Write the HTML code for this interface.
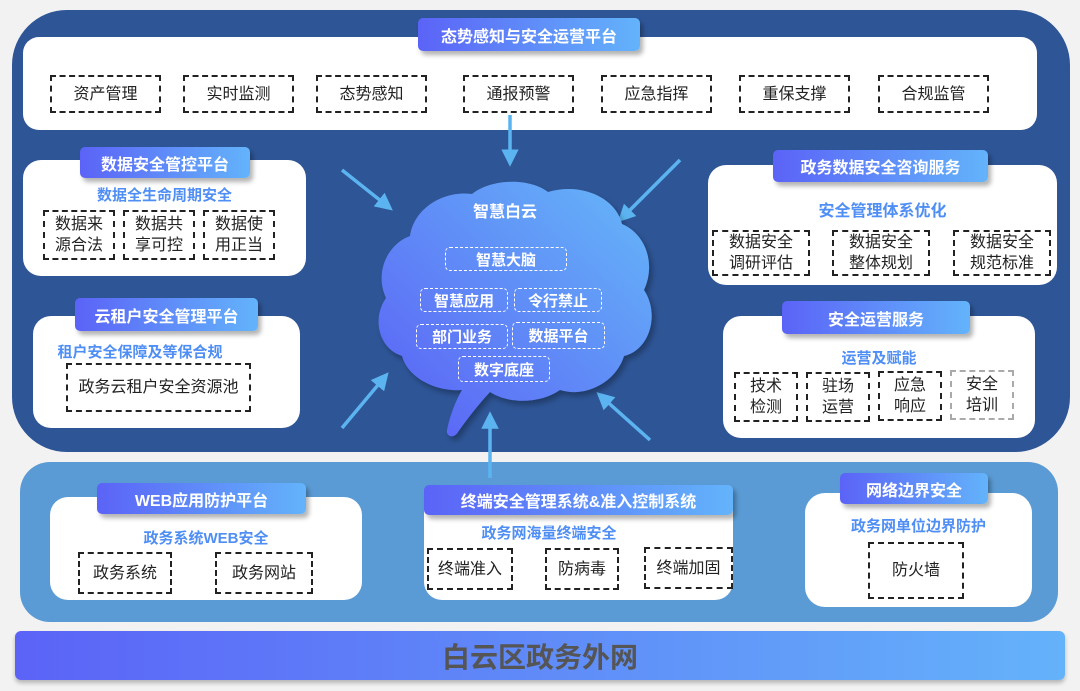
<!DOCTYPE html>
<html><head><meta charset="utf-8"><style>
*{margin:0;padding:0;box-sizing:border-box}
body{width:1080px;height:691px;background:#f2f2f2;position:relative;overflow:hidden;font-family:"Liberation Sans","Noto Sans CJK SC",sans-serif}
.a{position:absolute}
.w{position:absolute;background:#fff;border-radius:18px}
.tab{position:absolute;background:linear-gradient(90deg,#5b63f7,#63b3fb);color:#fff;font-weight:bold;font-size:16px;display:flex;align-items:center;justify-content:center;border-radius:5px;box-shadow:3px 4px 5px rgba(0,0,0,.3)}
.d{position:absolute;border:2px dashed #222;display:flex;align-items:center;justify-content:center;text-align:center;font-size:16px;color:#222;line-height:21px}
.s{position:absolute;color:#4f8ef5;font-weight:bold;font-size:15px;text-align:center}
.b{position:absolute;border:1.5px dashed #fff;border-radius:5px;color:#fff;font-weight:bold;font-size:15px;display:flex;align-items:center;justify-content:center}
</style></head><body>
<div class="a" style="left:12px;top:10px;width:1058px;height:442px;background:#2e5596;border-radius:55px"></div>
<div class="a" style="left:20px;top:462px;width:1038px;height:160px;background:#5b9bd5;border-radius:30px"></div>
<div class="a" style="left:15px;top:631px;width:1050px;height:49px;background:linear-gradient(90deg,#5b63f7,#64b2fa);border-radius:6px;box-shadow:0 3px 4px rgba(0,0,0,.25);color:#555;font-weight:bold;font-size:28px;display:flex;align-items:center;justify-content:center">白云区政务外网</div>

<!-- top -->
<div class="w" style="left:23px;top:37px;width:1014px;height:93px;border-radius:16px"></div>
<div class="tab" style="left:418px;top:18px;width:222px;height:33px">态势感知与安全运营平台</div>
<div class="d" style="left:50px;top:75px;width:111px;height:38px">资产管理</div>
<div class="d" style="left:183px;top:75px;width:111px;height:38px">实时监测</div>
<div class="d" style="left:316px;top:75px;width:111px;height:38px">态势感知</div>
<div class="d" style="left:463px;top:75px;width:111px;height:38px">通报预警</div>
<div class="d" style="left:601px;top:75px;width:111px;height:38px">应急指挥</div>
<div class="d" style="left:739px;top:75px;width:111px;height:38px">重保支撑</div>
<div class="d" style="left:878px;top:75px;width:111px;height:38px">合规监管</div>

<!-- left 1 -->
<div class="w" style="left:23px;top:160px;width:283px;height:116px"></div>
<div class="tab" style="left:80px;top:147px;width:170px;height:31px">数据安全管控平台</div>
<div class="s" style="left:23px;top:184px;width:283px">数据全生命周期安全</div>
<div class="d" style="left:43px;top:210px;width:72px;height:50px">数据来<br>源合法</div>
<div class="d" style="left:123px;top:210px;width:72px;height:50px">数据共<br>享可控</div>
<div class="d" style="left:203px;top:210px;width:72px;height:50px">数据使<br>用正当</div>

<!-- left 2 -->
<div class="w" style="left:33px;top:316px;width:267px;height:112px"></div>
<div class="tab" style="left:75px;top:298px;width:183px;height:33px">云租户安全管理平台</div>
<div class="s" style="left:40px;top:341px;width:200px">租户安全保障及等保合规</div>
<div class="d" style="left:66px;top:363px;width:185px;height:49px">政务云租户安全资源池</div>

<!-- right 1 -->
<div class="w" style="left:708px;top:165px;width:349px;height:120px"></div>
<div class="tab" style="left:773px;top:150px;width:215px;height:32px">政务数据安全咨询服务</div>
<div class="s" style="left:708px;top:197px;width:349px;font-size:16px">安全管理体系优化</div>
<div class="d" style="left:712px;top:230px;width:98px;height:46px;font-size:16px">数据安全<br>调研评估</div>
<div class="d" style="left:832px;top:230px;width:98px;height:46px;font-size:16px">数据安全<br>整体规划</div>
<div class="d" style="left:953px;top:230px;width:98px;height:46px;font-size:16px">数据安全<br>规范标准</div>

<!-- right 2 -->
<div class="w" style="left:723px;top:316px;width:312px;height:122px"></div>
<div class="tab" style="left:782px;top:301px;width:188px;height:33px">安全运营服务</div>
<div class="s" style="left:723px;top:347px;width:312px">运营及赋能</div>
<div class="d" style="left:734px;top:372px;width:64px;height:50px;font-size:16px">技术<br>检测</div>
<div class="d" style="left:806px;top:372px;width:64px;height:50px;font-size:16px">驻场<br>运营</div>
<div class="d" style="left:878px;top:371px;width:64px;height:50px;font-size:16px">应急<br>响应</div>
<div class="d" style="left:950px;top:370px;width:64px;height:50px;font-size:16px;border-color:#aaa">安全<br>培训</div>

<!-- bottom boxes -->
<div class="w" style="left:50px;top:497px;width:312px;height:103px"></div>
<div class="tab" style="left:97px;top:483px;width:209px;height:31px">WEB应用防护平台</div>
<div class="s" style="left:50px;top:527px;width:312px">政务系统WEB安全</div>
<div class="d" style="left:78px;top:552px;width:94px;height:42px">政务系统</div>
<div class="d" style="left:215px;top:552px;width:98px;height:42px">政务网站</div>

<div class="w" style="left:424px;top:487px;width:309px;height:113px"></div>
<div class="tab" style="left:424px;top:485px;width:309px;height:30px">终端安全管理系统&amp;准入控制系统</div>
<div class="s" style="left:424px;top:522px;width:250px">政务网海量终端安全</div>
<div class="d" style="left:427px;top:548px;width:86px;height:42px">终端准入</div>
<div class="d" style="left:545px;top:548px;width:74px;height:42px">防病毒</div>
<div class="d" style="left:644px;top:547px;width:89px;height:42px">终端加固</div>

<div class="w" style="left:805px;top:493px;width:227px;height:114px;border-radius:20px"></div>
<div class="tab" style="left:840px;top:473px;width:148px;height:31px">网络边界安全</div>
<div class="s" style="left:805px;top:515px;width:227px">政务网单位边界防护</div>
<div class="d" style="left:868px;top:542px;width:96px;height:57px">防火墙</div>

<!-- brain and arrows -->
<svg class="a" style="left:0;top:0" width="1080" height="691">
<defs>
<linearGradient id="g" x1="0" y1="1" x2="1" y2="0"><stop offset="0" stop-color="#5a5ef6"/><stop offset="1" stop-color="#66b8f8"/></linearGradient>
<marker id="m" markerWidth="5" markerHeight="5" refX="2.5" refY="2.5" orient="auto" markerUnits="strokeWidth"><path d="M0,0 L5,2.5 L0,5 z" fill="#5bb4f0"/></marker>
<filter id="f" x="-10%" y="-10%" width="130%" height="130%"><feDropShadow dx="3" dy="4" stdDeviation="3" flood-color="#000" flood-opacity=".3"/></filter>
</defs>
<g stroke="#5bb4f0" stroke-width="3.5" marker-end="url(#m)">
<line x1="510" y1="115" x2="510" y2="158"/>
<line x1="342" y1="170" x2="386" y2="205"/>
<line x1="680" y1="160" x2="624" y2="216"/>
<line x1="342" y1="428" x2="383" y2="379"/>
<line x1="650" y1="440" x2="603" y2="398"/>
<line x1="490" y1="478" x2="490" y2="420"/>
</g>
<path filter="url(#f)" d="M447,430 C450,415 456,400 462,390 C436,392 408,378 402,356 C378,348 372,318 386,298 C374,272 388,244 410,236 C414,208 444,190 472,194 C492,178 530,178 548,192 C582,182 616,198 622,224 C646,234 656,264 644,290 C660,314 650,350 624,356 C616,382 586,398 560,390 C540,404 508,404 490,392 C478,405 468,418 458,432 C455,438 446,438 447,430 Z" fill="url(#g)"/>
<text x="505" y="217" fill="#fff" font-size="16" font-weight="bold" text-anchor="middle" font-family="Liberation Sans, Noto Sans CJK SC, sans-serif">智慧白云</text>
</svg>
<div class="b" style="left:445px;top:247px;width:122px;height:24px">智慧大脑</div>
<div class="b" style="left:420px;top:288px;width:88px;height:24px">智慧应用</div>
<div class="b" style="left:514px;top:288px;width:88px;height:24px">令行禁止</div>
<div class="b" style="left:416px;top:324px;width:92px;height:25px">部门业务</div>
<div class="b" style="left:512px;top:322px;width:93px;height:27px">数据平台</div>
<div class="b" style="left:458px;top:356px;width:92px;height:26px">数字底座</div>
</body></html>
